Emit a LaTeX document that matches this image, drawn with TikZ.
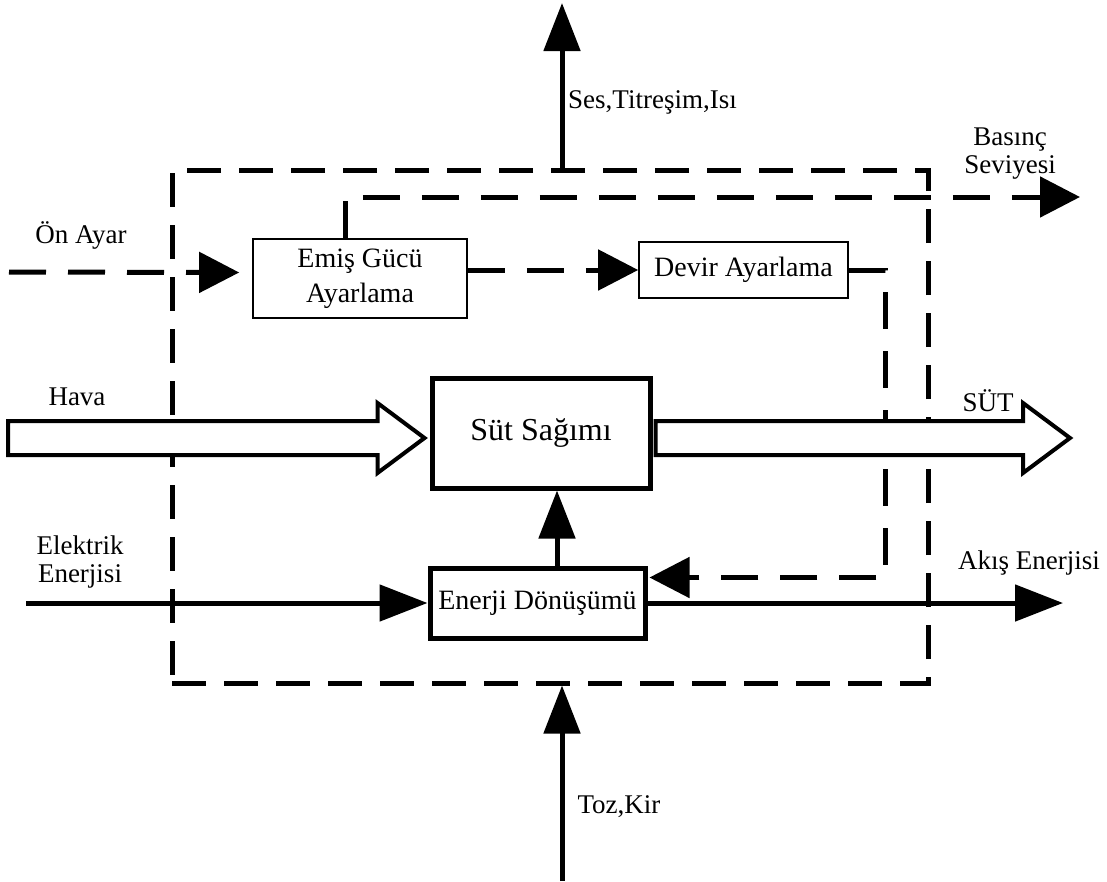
\documentclass[tikz,border=0pt]{standalone}
\usepackage{fontspec}
\setmainfont{Liberation Serif}
\usetikzlibrary{arrows.meta,calc}

\tikzset{
  lbl/.style={font=\fontsize{27}{28}\selectfont, inner sep=0pt},
  thinbox/.style={draw, line width=1.6pt, font=\fontsize{28}{35}\selectfont, align=center, inner sep=0pt},
  thickbox/.style={draw, line width=5pt, inner sep=0pt},
  sysbox/.style={draw, line width=5pt, dash pattern=on 34pt off 18pt},
  dashline/.style={line width=5pt, dash pattern=on 37pt off 22pt, -{Triangle[length=40pt,width=40pt]}},
  solidarrow/.style={line width=5pt, -{Triangle[length=48pt,width=36pt]}},
  hollow/.style={draw, line width=4pt, fill=white, line join=miter},
}

\begin{document}
\begin{tikzpicture}[x=1pt, y=-1pt]
\useasboundingbox (0,0) rectangle (1107,881);

% System boundary
\node[sysbox, minimum width=756pt, minimum height=513pt] (sistem) at (550,426.5) {};

% Blocks
\node[thinbox, minimum width=214pt, minimum height=79pt] (emis) at (360,278.5) {Emiş Gücü\\Ayarlama};
\node[thinbox, minimum width=209pt, minimum height=56pt] (devir) at (743.5,270) {Devir Ayarlama};
\node[thickbox, minimum width=218pt, minimum height=110pt, font=\fontsize{32}{36}\selectfont] (sut) at (541,433) {Süt Sağımı};
\node[thickbox, minimum width=215pt, minimum height=70pt, font=\fontsize{28}{32}\selectfont] (enerji) at (537.5,603) {Enerji Dönüşümü};

% Free ends
\coordinate (onayar) at (9,272);
\coordinate (hava) at (8,438);
\coordinate (elektrik) at (26,603);
\coordinate (basinc) at (1080,197);
\coordinate (sutout) at (1070,438);
\coordinate (akis) at (1063,603);
\coordinate (ses) at (562,3);
\coordinate (toz) at (562,881);
\coordinate (besle) at (557,0);

% Control signals
\draw[dashline] (onayar) -- ($(emis.west)+(-13,-6)$);
\draw[dashline] (emis.east |- devir.west) -- (devir.west);
\draw[dashline] ($(emis.north)+(-15,0)$) |- (basinc);
\draw[dashline] (devir.east) -- ++(37,0) |- ($(enerji.north east)+(2,12)$);

% Material flow
\draw[hollow] let \p1=(hava), \p2=($(sut.west)+(-5,0)$) in
  (\x1,\y1+17pt) -- (\x2-47pt,\y1+17pt) -- (\x2-47pt,\y1+35pt) -- (\x2,\y1)
  -- (\x2-47pt,\y1-35pt) -- (\x2-47pt,\y1-17pt) -- (\x1,\y1-17pt) -- cycle;
\draw[hollow] let \p1=($(sut.east)+(3,5)$), \p2=(sutout) in
  (\x1,\y1+17pt) -- (\x2-47pt,\y1+17pt) -- (\x2-47pt,\y1+35pt) -- (\x2,\y1)
  -- (\x2-47pt,\y1-35pt) -- (\x2-47pt,\y1-17pt) -- (\x1,\y1-17pt) -- cycle;

% Energy and others
\draw[solidarrow] (elektrik) -- (enerji.west);
\draw[solidarrow] (enerji.east) -- (akis);
\draw[solidarrow] (besle |- enerji.north) -- (besle |- sut.south);
\draw[solidarrow] (ses |- sistem.north) -- (ses);
\draw[solidarrow] (toz) -- (toz |- sistem.south);

% Labels
\node[lbl, anchor=west] (seslbl) at (568,102) {Ses,Titreşim,Isı};
\node[lbl, align=center] (basinclbl) at (1010,154) {Basınç\\Seviyesi};
\node[lbl] (onayarlbl) at (81,235) {Ön Ayar};
\node[lbl] (havalbl) at (77,397) {Hava};
\node[lbl, align=center] (elektriklbl) at (80,562) {Elektrik\\Enerjisi};
\node[lbl] (sutlbl) at (988,401) {SÜT};
\node[lbl] (akislbl) at (1029,563) {Akış Enerjisi};
\node[lbl] (tozlbl) at (619,807) {Toz,Kir};
\end{tikzpicture}
\end{document}
